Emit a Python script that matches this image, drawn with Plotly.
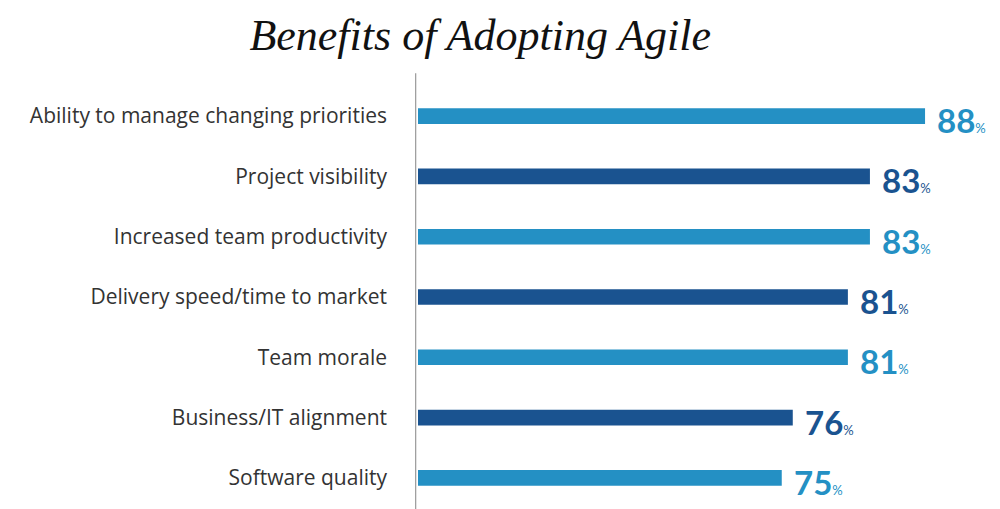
import plotly.graph_objects as go

categories = [
    "Ability to manage changing priorities",
    "Project visibility",
    "Increased team productivity",
    "Delivery speed/time to market",
    "Team morale",
    "Business/IT alignment",
    "Software quality",
]
values = [88, 83, 83, 81, 81, 76, 75]

light_blue = "#2490c4"
dark_blue = "#1a5390"
colors = [light_blue if i % 2 == 0 else dark_blue for i in range(len(values))]

fig = go.Figure(go.Bar(
    x=values,
    y=categories,
    orientation="h",
    marker=dict(color=colors, line=dict(width=0)),
    width=0.26,
    hoverinfo="skip",
))

# value labels: big bold number with a small percent sign
for cat, val, col in zip(categories, values, colors):
    fig.add_annotation(
        x=val, y=cat, xref="x", yref="y",
        text=f"<b>{val}</b><span style='font-size:13px'>%</span>",
        showarrow=False, xanchor="left", yanchor="middle",
        xshift=10, yshift=-4,
        font=dict(family="Lato, Open Sans, sans-serif", size=33, color=col),
    )

# vertical axis line
fig.add_shape(type="line", xref="paper", yref="paper",
              x0=-0.004, x1=-0.004, y0=-0.01, y1=1.03,
              line=dict(color="#999999", width=1.2))

# the page body adds an 8px margin, so the figure is a bit smaller than the window
fig.update_layout(
    width=992, height=501,
    paper_bgcolor="white", plot_bgcolor="white",
    margin=dict(l=410, r=0, t=78, b=1, autoexpand=False),
    title=dict(
        text="<i>Benefits of Adopting Agile</i>",
        x=0.476, xanchor="center", y=0.946, yanchor="middle", yref="container",
        font=dict(family="Liberation Serif, DejaVu Serif, serif", size=44, color="#111111"),
    ),
    xaxis=dict(range=[42, 94.8], visible=False, fixedrange=True, automargin=False),
    yaxis=dict(
        autorange="reversed", showline=False, showgrid=False, zeroline=False,
        ticks="", ticklabelstandoff=30, automargin=False,
        tickfont=dict(family="Open Sans, Lato, sans-serif", size=21, color="#333333"),
    ),
    showlegend=False,
    bargap=0.7,
)

fig.write_html("out.html")
